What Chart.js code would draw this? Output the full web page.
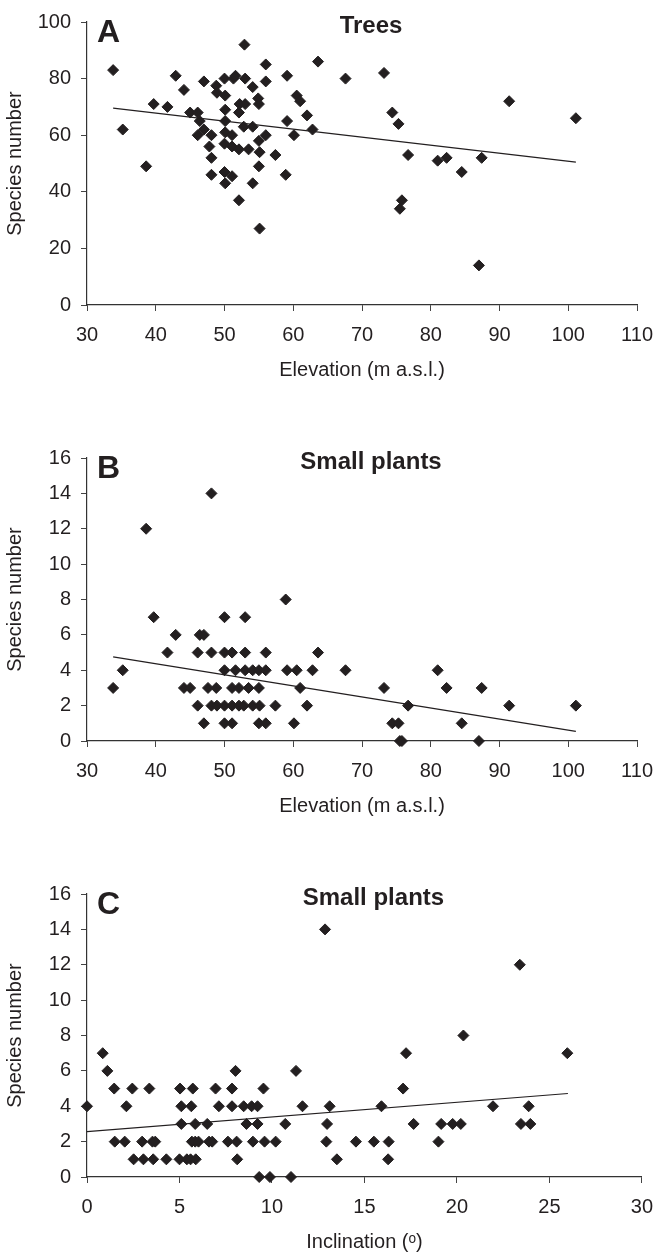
<!DOCTYPE html>
<html>
<head>
<meta charset="utf-8">
<title>Species number vs elevation and inclination</title>
<script src="https://cdn.jsdelivr.net/npm/chart.js@4.4.1/dist/chart.umd.min.js"></script>
<style>
  html, body { margin: 0; padding: 0; background: #fff; }
  #wrap { position: relative; width: 665px; height: 1255px; }
  .panel { position: absolute; left: 0; width: 665px; height: 383px; }
</style>
</head>
<body>
<div id="wrap">
  <div class="panel" style="top:0px"><canvas id="chartA" width="665" height="383"></canvas></div>
  <div class="panel" style="top:436px"><canvas id="chartB" width="665" height="383"></canvas></div>
  <div class="panel" style="top:872px"><canvas id="chartC" width="665" height="383"></canvas></div>
</div>
<script>
// Panel A - trees vs elevation
const elevA = [33.8, 35.2, 38.6, 39.7, 41.7, 42.9, 44.1, 45.0, 46.1, 46.4,
  47.0, 47.0, 46.1, 48.1, 47.8, 48.1, 48.1, 48.8, 48.9, 50.0,
  50.1, 50.1, 50.1, 50.1, 50.0, 50.0, 50.1, 51.1, 51.1, 51.1,
  51.3, 51.6, 52.1, 52.2, 52.1, 52.1, 52.8, 53.0, 53.0, 52.9,
  53.5, 54.1, 54.1, 54.1, 54.9, 55.0, 55.0, 55.1, 55.0, 55.1,
  56.0, 56.0, 56.0, 57.4, 59.1, 59.1, 60.1, 58.9, 60.5, 61.0,
  62.0, 62.8, 63.6, 67.6, 73.2, 74.4, 75.3, 76.7, 75.8, 75.5,
  81.0, 82.3, 84.5, 87.4, 87.0, 91.4, 101.1];
const treesA = [83, 62, 49, 71, 70, 81, 76, 68, 68, 65,
  79, 62, 60, 60, 56, 52, 46, 77.5, 75, 80,
  74, 69, 65, 61, 57, 47, 43, 45.5, 60, 56,
  80, 81, 68, 71, 55, 37, 63, 71, 80, 92,
  55, 77, 63, 43, 73, 71, 58, 54, 49, 27,
  85, 79, 60, 53, 81, 65, 60, 46, 74, 72,
  67, 62, 86, 80, 82, 68, 64, 53, 37, 34,
  51, 52, 47, 52, 14, 72, 66];
const trendAx = [33.8, 101.1];
const trendAy = [69.6, 50.5];

// Panel B - small plants vs elevation
const elevB = [33.8, 35.2, 38.6, 39.7, 41.7, 42.9, 44.1, 45.0, 46.1, 46.1,
  46.4, 47.0, 47.0, 48.1, 47.6, 48.1, 48.1, 48.8, 48.9, 50.0,
  50.0, 50.0, 50.0, 50.0, 51.1, 51.1, 51.1, 51.1, 51.6, 52.1,
  52.1, 53.0, 53.0, 53.0, 52.8, 53.5, 54.1, 54.1, 55.0, 55.0,
  55.1, 55.0, 56.0, 56.0, 56.0, 57.4, 58.9, 59.1, 60.1, 60.5,
  61.0, 62.0, 62.8, 63.6, 67.6, 73.2, 74.4, 75.3, 75.5, 75.8,
  76.7, 81.0, 82.3, 84.5, 87.4, 87.0, 91.4, 101.1];
const smallB = [3, 4, 12, 7, 5, 6, 3, 3, 5, 2,
  6, 6, 1, 5, 3, 2, 14, 3, 2, 7,
  5, 4, 2, 1, 5, 3, 2, 1, 4, 3,
  2, 7, 5, 4, 2, 3, 4, 2, 4, 3,
  2, 1, 5, 4, 1, 2, 8, 4, 1, 4,
  3, 2, 4, 5, 4, 3, 1, 1, 0, 0,
  2, 4, 3, 1, 3, 0, 2, 2];
const trendBx = [33.8, 101.1];
const trendBy = [4.76, 0.54];

// Panel C - small plants vs inclination
const inclC = [0, 0.85, 1.1, 1.47, 1.5, 2.04, 2.13, 2.45, 2.52, 2.98,
  3.05, 3.37, 3.54, 3.69, 3.58, 4.29, 5.03, 5.1, 5.1, 5.0,
  5.4, 5.64, 5.72, 5.85, 5.67, 5.6, 5.88, 5.85, 6.03, 6.5,
  6.6, 6.77, 6.95, 7.13, 7.84, 7.84, 8.03, 7.62, 8.09, 8.12,
  8.47, 8.62, 8.9, 9.22, 9.22, 8.97, 9.6, 9.54, 9.31, 9.89,
  10.2, 10.72, 11.03, 11.3, 11.65, 12.87, 13.12, 12.98, 12.94, 13.51,
  14.54, 15.51, 15.92, 16.31, 16.28, 17.09, 17.25, 17.66, 19.0, 19.15,
  19.77, 20.21, 20.35, 23.4, 25.97, 21.95, 23.88, 23.46, 23.97];
const smallC = [4, 7, 6, 5, 2, 2, 4, 5, 1, 2,
  1, 5, 2, 2, 1, 1, 5, 4, 3, 1,
  1, 4, 5, 3, 2, 1, 1, 2, 2, 3,
  2, 2, 5, 4, 5, 4, 6, 2, 2, 1,
  4, 3, 4, 4, 3, 2, 2, 5, 0, 0,
  2, 3, 0, 6, 4, 14, 4, 3, 2, 1,
  2, 2, 4, 2, 1, 5, 7, 3, 2, 3,
  3, 3, 8, 12, 7, 4, 4, 3, 3];
const trendCx = [0, 26];
const trendCy = [2.56, 4.72];

const INK = '#231f20';
const FONT = '"Liberation Sans", Arial, Helvetica, sans-serif';

// zip two arrays into {x, y} points
function toPoints(xs, ys) {
  return xs.map((x, i) => ({ x: x, y: ys[i] }));
}

// panel letter + bold title drawn inside the plot
const panelText = {
  id: 'panelText',
  afterDraw(chart, args, opts) {
    const ctx = chart.ctx;
    const area = chart.chartArea;
    ctx.save();
    ctx.fillStyle = INK;
    ctx.textBaseline = 'alphabetic';
    ctx.font = 'bold 32px ' + FONT;
    ctx.textAlign = 'left';
    ctx.fillText(opts.letter, area.left + 10, area.top + 19.5);
    ctx.font = 'bold 24px ' + FONT;
    ctx.textAlign = 'center';
    ctx.fillText(opts.title, (area.left + area.right) / 2 + 9, area.top + 10.5);
    ctx.restore();
  }
};

function makePanel(id, opts) {
  const ctx = document.getElementById(id).getContext('2d');
  return new Chart(ctx, {
    type: 'scatter',
    data: {
      datasets: [
        {
          data: toPoints(opts.xs, opts.ys),
          pointStyle: 'rectRot',
          pointRadius: 5.5,
          pointBackgroundColor: INK,
          pointBorderColor: INK,
          pointBorderWidth: 1,
          clip: false,
          order: 1
        },
        {
          data: toPoints(opts.trendX, opts.trendY),
          showLine: true,
          borderColor: INK,
          borderWidth: 1.2,
          pointRadius: 0,
          fill: false,
          order: 0
        }
      ]
    },
    options: {
      responsive: false,
      animation: false,
      devicePixelRatio: 1,
      layout: { padding: { top: 18, right: 16, left: 0, bottom: 0 } },
      plugins: {
        legend: { display: false },
        tooltip: { enabled: false },
        panelText: { letter: opts.letter, title: opts.title }
      },
      scales: {
        x: {
          type: 'linear',
          min: opts.xMin,
          max: opts.xMax,
          afterFit: (scale) => { scale.height = 78; },
          ticks: {
            stepSize: opts.xStep,
            padding: 12,
            color: INK,
            font: { family: FONT, size: 20 }
          },
          grid: { drawOnChartArea: false, drawTicks: true, tickLength: 6, color: '#444', lineWidth: 1 },
          border: { display: true, color: '#333', width: 1.2 },
          title: {
            display: true,
            text: opts.xTitle,
            color: INK,
            font: { family: FONT, size: 20 },
            padding: { top: 0, bottom: 1 }
          }
        },
        y: {
          min: 0,
          max: opts.yMax,
          afterFit: (scale) => { scale.width = 87; },
          ticks: {
            stepSize: opts.yStep,
            padding: 10,
            color: INK,
            font: { family: FONT, size: 20 }
          },
          grid: { drawOnChartArea: false, drawTicks: true, tickLength: 6, color: '#444', lineWidth: 1 },
          border: { display: true, color: '#333', width: 1.2 },
          title: {
            display: true,
            text: 'Species number',
            color: INK,
            font: { family: FONT, size: 20 },
            padding: { top: 3, bottom: 0 }
          }
        }
      }
    },
    plugins: [panelText]
  });
}

makePanel('chartA', {
  xs: elevA, ys: treesA, trendX: trendAx, trendY: trendAy,
  xMin: 30, xMax: 110, xStep: 10, yMax: 100, yStep: 20,
  xTitle: 'Elevation (m a.s.l.)', letter: 'A', title: 'Trees'
});

makePanel('chartB', {
  xs: elevB, ys: smallB, trendX: trendBx, trendY: trendBy,
  xMin: 30, xMax: 110, xStep: 10, yMax: 16, yStep: 2,
  xTitle: 'Elevation (m a.s.l.)', letter: 'B', title: 'Small plants'
});

makePanel('chartC', {
  xs: inclC, ys: smallC, trendX: trendCx, trendY: trendCy,
  xMin: 0, xMax: 30, xStep: 5, yMax: 16, yStep: 2,
  xTitle: 'Inclination (\u1D52)', letter: 'C', title: 'Small plants'
});
</script>
</body>
</html>
